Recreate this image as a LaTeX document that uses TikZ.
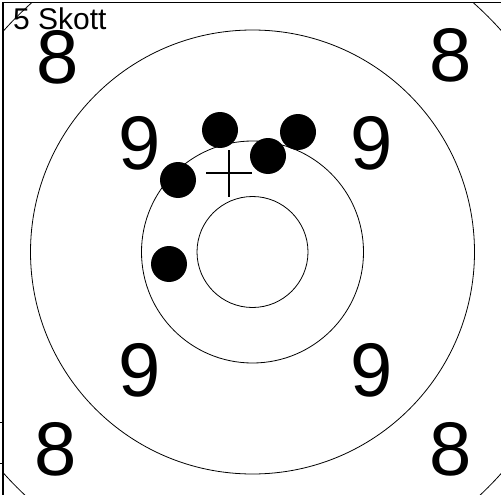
\documentclass[tikz,border=0pt]{standalone}
\usepackage{fontspec}
\setmainfont{Liberation Sans}
\begin{document}
\begin{tikzpicture}[x=1pt, y=-1pt,
    ring/.style={draw, line width=0.8pt},
    shot/.style={circle, fill=black, inner sep=0pt, minimum size=36pt},
    score/.style={inner sep=0pt, font=\fontsize{76}{76}\selectfont}]
    \useasboundingbox (0,0) rectangle (501,495);

    % Centre of the target
    \coordinate (c) at (252.5,252);

    % Frame and the small marks on its left side
    \coordinate (fbl) at (3,495);
    \coordinate (ftl) at (3,2.5);
    \coordinate (ftr) at (501,2.5);
    \draw[line width=1.6pt] (fbl) -- (ftl) -- (ftr);
    \coordinate (m1) at (0,422);
    \coordinate (m2) at (0,463);
    \draw[line width=0.8pt] (m1) -- ++(3,0);
    \draw[line width=0.8pt] (m2) -- ++(3,0);

    % Rings 7, 8, 9 and 10
    \begin{scope}
        \clip (ftl) rectangle (501,495);
        \draw[ring] (c) circle[radius=333pt];
    \end{scope}
    \draw[ring] (c) circle[radius=222pt];
    \draw[ring] (c) circle[radius=111pt];
    \draw[ring] (c) circle[radius=55.5pt];

    % Ring numbers
    \node[score] (e1) at (58,57) {8};
    \node[score] (e2) at (451,55) {8};
    \node[score] (e3) at (56,449) {8};
    \node[score] (e4) at (451,449) {8};
    \node[score] (n1) at (140,143) {9};
    \node[score] (n2) at (372,143) {9};
    \node[score] (n3) at (140,370) {9};
    \node[score] (n4) at (372,370) {9};

    % Title
    \node[anchor=base west, inner sep=0pt, font=\fontsize{30}{30}\selectfont] (title) at (13,30) {5 Skott};

    % Mean point of impact
    \coordinate (mp) at (229,173);
    \draw[line width=1.6pt] (mp) ++(-23,0) -- ++(46,0);
    \draw[line width=1.6pt] (mp) ++(0,-23) -- ++(0,47);

    % Shots
    \node[shot] (s1) at (220,130) {};
    \node[shot] (s2) at (298,132) {};
    \node[shot] (s3) at (268,156) {};
    \node[shot] (s4) at (178,180) {};
    \node[shot] (s5) at (169,264) {};
\end{tikzpicture}
\end{document}
